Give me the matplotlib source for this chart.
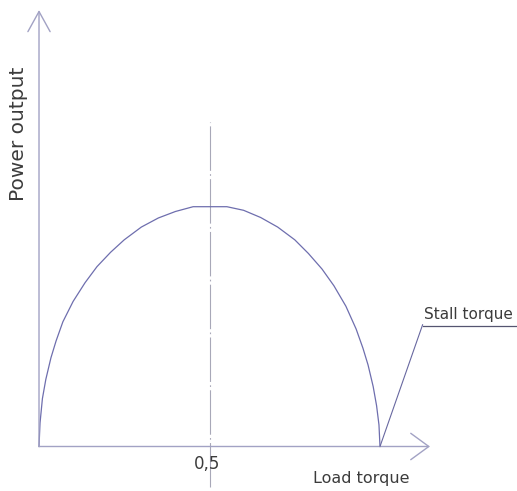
import matplotlib
matplotlib.use("Agg")
import matplotlib.pyplot as plt

# Data (load torque normalised to stall torque = 1,
# power normalised to its maximum = 1)
torque = [0.0, 0.003, 0.010, 0.020, 0.035, 0.050, 0.070, 0.100, 0.135, 0.170,
          0.210, 0.250, 0.300, 0.350, 0.400, 0.452, 0.500, 0.551, 0.600, 0.650,
          0.700, 0.750, 0.790, 0.830, 0.865, 0.900, 0.930, 0.950, 0.965, 0.980,
          0.990, 0.997, 1.000]
power = [0.0, 0.098, 0.200, 0.280, 0.370, 0.440, 0.520, 0.605, 0.683, 0.750,
         0.810, 0.862, 0.915, 0.953, 0.980, 1.000, 1.000, 1.000, 0.985, 0.955,
         0.915, 0.862, 0.805, 0.740, 0.670, 0.585, 0.490, 0.410, 0.340, 0.250,
         0.170, 0.090, 0.0]

half_label = "0,5"
x_label = "Load torque"
y_label = "Power output"
stall_label = "Stall torque"
half_torque = 0.5
stall_torque = 1.0

axis_color = "#a2a2c4"
curve_color = "#6e6eae"
text_color = "#3c3c3c"

fig = plt.figure(figsize=(5.17, 4.91), dpi=100)
ax = fig.add_axes([0, 0, 1, 1])
ax.set_xlim(-0.1144, 1.4018)
ax.set_ylim(-0.1856, 1.862)
ax.axis("off")

# axes with open arrow heads
ax.annotate("", xy=(1.1466, 0), xytext=(0, 0),
            arrowprops=dict(arrowstyle="->,head_length=1.3,head_width=0.95",
                            color=axis_color, lw=1.0, mutation_scale=10,
                            shrinkA=0, shrinkB=0))
ax.annotate("", xy=(0, 1.82), xytext=(0, 0),
            arrowprops=dict(arrowstyle="->,head_length=1.45,head_width=0.8",
                            color=axis_color, lw=1.0, mutation_scale=10,
                            shrinkA=0, shrinkB=0))

# dash-dot centre line at half stall torque
ax.plot([half_torque, half_torque], [-0.169, 1.354], color="#a8a8b8", lw=0.8,
        dashes=(40, 3, 1.5, 3), scalex=False, scaley=False)

# power curve
ax.plot(torque, power, color=curve_color, lw=0.9, solid_joinstyle="round")

# labels
ax.text(-0.0616, 1.303, y_label, rotation=90, ha="center", va="center",
        fontsize=14.5, color=text_color)
ax.text(0.493, -0.073, half_label, ha="center", va="center",
        fontsize=12, color=text_color)
ax.text(0.946, -0.135, x_label, ha="center", va="center",
        fontsize=11.5, color=text_color)

# stall torque leader with underline
ax.annotate(stall_label, xy=(stall_torque, 0), xytext=(1.128, 0.52),
            ha="left", va="bottom", fontsize=11, color=text_color,
            arrowprops=dict(arrowstyle="-", color="#6868a0", lw=0.8,
                            shrinkA=0, shrinkB=0, relpos=(0, 0)))
ax.plot([1.126, 1.402], [0.5025, 0.5025], color="#555570", lw=0.9,
        scalex=False, scaley=False)

fig.savefig("out.png", dpi=100)
